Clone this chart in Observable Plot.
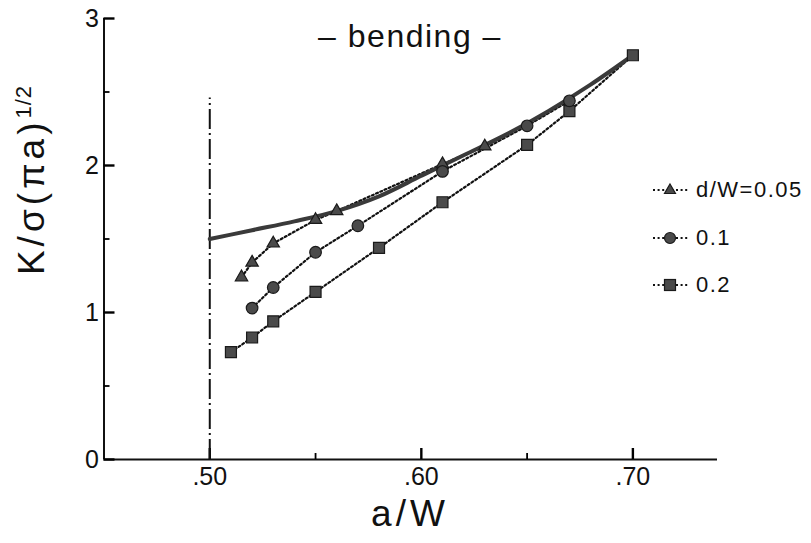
<!DOCTYPE html>
<html><head><meta charset="utf-8">
<script src="https://cdn.jsdelivr.net/npm/d3@7"></script>
<script src="https://cdn.jsdelivr.net/npm/@observablehq/plot@0.6"></script>
<style>
body{margin:0;background:#fff;}
#wrap{position:relative;width:811px;height:543px;font-family:"Liberation Sans",Arial,sans-serif;color:#111;overflow:hidden;}
#wrap svg{display:block;}
.ov{position:absolute;white-space:pre;line-height:1;}
#title{left:410px;top:20px;transform:translateX(-50%);font-size:32px;letter-spacing:1.5px;}
#xlab{left:410px;top:495px;transform:translateX(-50%);font-size:37px;letter-spacing:4px;}
#ylab{left:31px;top:180px;transform:translate(-50%,-50%) rotate(-90deg);font-size:37px;letter-spacing:4px;}
#ylab sup{font-size:22px;letter-spacing:1px;vertical-align:0.55em;}
.leg{position:absolute;left:652px;height:24px;display:flex;align-items:center;font-size:22px;letter-spacing:1.5px;}
.leg svg{margin-right:6px;}
</style></head><body><div id="wrap"></div>
<script>
// solid reference curve (no hole)
const curveX = [0.50, 0.52, 0.54, 0.56, 0.58, 0.60, 0.62, 0.64, 0.66, 0.68, 0.70];
const curveY = [1.50, 1.56, 1.62, 1.69, 1.79, 1.93, 2.07, 2.21, 2.37, 2.55, 2.75];
// d/W = 0.05 (triangles)
const triX = [0.515, 0.52, 0.53, 0.55, 0.56, 0.61, 0.63];
const triY = [1.24, 1.34, 1.47, 1.63, 1.69, 2.01, 2.13];
// d/W = 0.1 (circles)
const cirX = [0.52, 0.53, 0.55, 0.57, 0.61, 0.65, 0.67];
const cirY = [1.03, 1.17, 1.41, 1.59, 1.96, 2.27, 2.44];
// d/W = 0.2 (squares)
const sqX = [0.51, 0.52, 0.53, 0.55, 0.58, 0.61, 0.65, 0.67, 0.70];
const sqY = [0.73, 0.83, 0.94, 1.14, 1.44, 1.75, 2.14, 2.37, 2.75];
// vertical dash-dot line at a/W = 0.50
const vLineX = [0.50];
const vLineTop = 2.46;
// ticks
const xMajor = [0.50, 0.60, 0.70];
const xTickLabels = [".50", ".60", ".70"];
const xMinor = [0.55, 0.65];
const yMajor = [0, 1, 2, 3];
const yTickLabels = ["0", "1", "2", "3"];
const yMinor = [0.5, 1.5, 2.5];
const legendLabels = ["d/W=0.05", "0.1", "0.2"];

const toPts = (xs, ys) => xs.map((x, i) => ({x, y: ys[i]}));
const curve = toPts(curveX, curveY);
const tri = toPts(triX, triY);
const cir = toPts(cirX, cirY);
const sq = toPts(sqX, sqY);

const W = 811, H = 543, mL = 103.5, mR = 94, mT = 18, mB = 84;
const xLo = 0.45, xHi = 0.74, yLo = 0, yHi = 3;
// one pixel expressed in data units (for inward tick lengths)
const pxX = (xHi - xLo) / (W - mL - mR);
const pxY = (yHi - yLo) / (H - mT - mB);

const dotted = {x: "x", y: "y", stroke: "#111", strokeWidth: 2.2, strokeDasharray: "2,2.6", curve: "linear"};
const markStyle = {x: "x", y: "y", fill: "#4a4a4a", stroke: "#1a1a1a", strokeWidth: 1.2};
const font = '"Liberation Sans",Arial,sans-serif';

const chart = Plot.plot({
  width: W, height: H,
  marginLeft: mL, marginRight: mR, marginTop: mT, marginBottom: mB,
  x: {domain: [xLo, xHi]},
  y: {domain: [yLo, yHi]},
  style: {fontFamily: font, color: "#111", background: "white"},
  marks: [
    // axis lines
    Plot.ruleX([xLo], {stroke: "#111", strokeWidth: 2}),
    Plot.ruleY([yLo], {stroke: "#111", strokeWidth: 2}),
    // inward ticks
    Plot.ruleY(yMajor, {y: d => d, x1: xLo, x2: xLo + 11 * pxX, stroke: "#000", strokeWidth: 2.4}),
    Plot.ruleY(yMinor, {y: d => d, x1: xLo, x2: xLo + 6 * pxX, stroke: "#000", strokeWidth: 1.8}),
    Plot.ruleX(xMajor, {x: d => d, y1: yLo, y2: yLo + 11 * pxY, stroke: "#000", strokeWidth: 2.4}),
    Plot.ruleX(xMinor, {x: d => d, y1: yLo, y2: yLo + 6 * pxY, stroke: "#000", strokeWidth: 1.8}),
    // tick labels
    Plot.axisY({ticks: yMajor, tickSize: 0, tickPadding: 5, label: null, fontSize: 25,
      tickFormat: d => yTickLabels[yMajor.indexOf(d)]}),
    Plot.axisX({ticks: xMajor, tickSize: 0, tickPadding: 8, label: null, fontSize: 25,
      tickFormat: d => xTickLabels[xMajor.indexOf(d)]}),
    // dash-dot vertical
    Plot.ruleX(vLineX, {y1: 0, y2: vLineTop, stroke: "#111", strokeWidth: 2, strokeDasharray: "20,4,2,4"}),
    // dotted series lines
    Plot.line(sq, dotted),
    Plot.line(cir, dotted),
    Plot.line(tri, dotted),
    // solid curve
    Plot.line(curve, {x: "x", y: "y", stroke: "#3a3a3a", strokeWidth: 4, curve: "monotone-x"}),
    // markers
    Plot.dot(sq, {...markStyle, symbol: "square", r: 6.2}),
    Plot.dot(tri, {...markStyle, symbol: "triangle", r: 4.6}),
    Plot.dot(cir, {...markStyle, symbol: "circle", r: 5.8})
  ]
});

const wrap = document.getElementById("wrap");
wrap.appendChild(chart);

function addText(id, html) {
  const d = document.createElement("div");
  d.id = id; d.className = "ov"; d.innerHTML = html;
  wrap.appendChild(d);
}
addText("title", "\u2013 bending \u2013");
addText("xlab", "a/W");
addText("ylab", "K/\u03c3(\u03c0a)<sup>1/2</sup>");

const legShapes = [
  '<polygon points="18,6 23.5,15.5 12.5,15.5"/>',
  '<circle cx="18" cy="12" r="5.5"/>',
  '<rect x="12.5" y="6.5" width="11" height="11"/>'
];
const legTops = [178, 226, 273];
legendLabels.forEach((lab, i) => {
  const d = document.createElement("div");
  d.className = "leg";
  d.style.top = legTops[i] + "px";
  d.innerHTML = `<svg width="38" height="24"><line x1="1" y1="12" x2="37" y2="12" stroke="#111" stroke-width="2" stroke-dasharray="2,2.6"/><g fill="#4a4a4a" stroke="#1a1a1a" stroke-width="1.2">${legShapes[i]}</g></svg><span>${lab}</span>`;
  wrap.appendChild(d);
});
</script>
</body></html>
